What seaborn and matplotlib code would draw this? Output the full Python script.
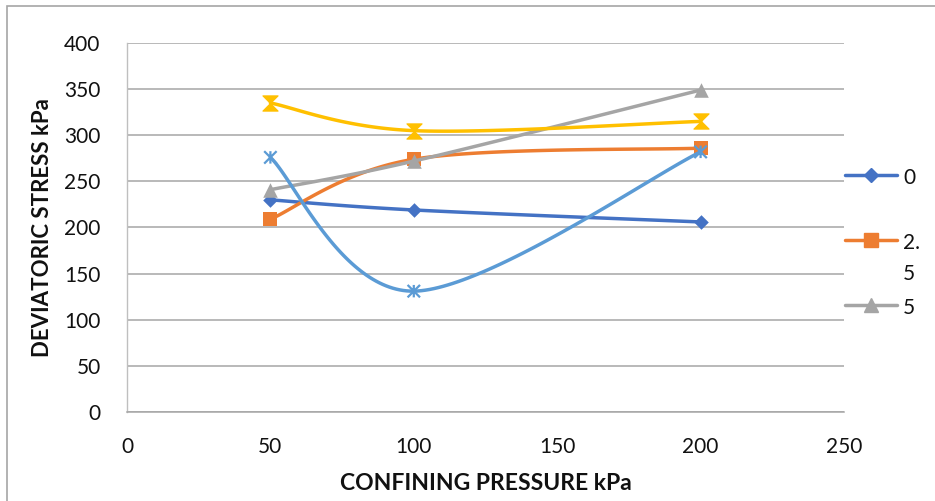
import numpy as np
import pandas as pd
import matplotlib
matplotlib.use("Agg")
import matplotlib.pyplot as plt
from matplotlib.path import Path
from matplotlib.lines import Line2D
from matplotlib.patches import Rectangle
import seaborn as sns

# ---- data -------------------------------------------------------------
confining_pressure = [50, 100, 200]
series_names = ["0", "2.5", "5", "7.5", "10"]
stress_0 = [230, 219, 206]
stress_2_5 = [209, 274, 286]
stress_5 = [241, 272, 349]
stress_7_5 = [335, 305, 315]
stress_10 = [276, 131, 282]
legend_labels = ["0", "2.\n5", "5"]

x_ticks = [0, 50, 100, 150, 200, 250]
y_ticks = [0, 50, 100, 150, 200, 250, 300, 350, 400]

# ---- styling ----------------------------------------------------------
sns.set_theme(style="white")
plt.rcParams["font.family"] = ["Lato", "DejaVu Sans"]

W, H = 935, 501
fig = plt.figure(figsize=(W / 100, H / 100), dpi=100)
left, right, top, bottom = 127, 844, 43, 412
ax = fig.add_axes([left / W, 1 - bottom / H, (right - left) / W, (bottom - top) / H])
ax.set_xlim(0, 250)
ax.set_ylim(0, 400)

# hourglass-like marker and Excel-style star marker
hourglass = Path([(-1, 1), (1, 1), (-1, -1), (1, -1), (-1, 1)],
                 [Path.MOVETO, Path.LINETO, Path.LINETO, Path.LINETO, Path.CLOSEPOLY])
star = Path([(-1, -1), (1, 1), (-1, 1), (1, -1), (0, -1), (0, 1)],
            [Path.MOVETO, Path.LINETO, Path.MOVETO, Path.LINETO, Path.MOVETO, Path.LINETO])

styles = [
    dict(color="#4472C4", marker="D", s=55, lw=0),
    dict(color="#ED7D31", marker="s", s=95, lw=0),
    dict(color="#A5A5A5", marker="^", s=110, lw=0),
    dict(color="#FFC000", marker=hourglass, s=120, lw=0.8),
    dict(color="#5B9BD5", marker=star, s=80, lw=1.6),
]
series_values = [stress_0, stress_2_5, stress_5, stress_7_5, stress_10]


def smooth_curve(xs, ys, n=60):
    """Catmull-Rom style Bezier smoothing computed in display space."""
    pts = ax.transData.transform(np.column_stack([xs, ys]))
    ext = np.vstack([pts[0], pts, pts[-1]])
    out = []
    for i in range(len(pts) - 1):
        p0, p1, p2, p3 = ext[i], ext[i + 1], ext[i + 2], ext[i + 3]
        c1 = p1 + (p2 - p0) / 6
        c2 = p2 - (p3 - p1) / 6
        t = np.linspace(0, 1, n)[:, None]
        seg = ((1 - t) ** 3) * p1 + 3 * ((1 - t) ** 2) * t * c1 + 3 * (1 - t) * t ** 2 * c2 + t ** 3 * p2
        out.append(seg if i == 0 else seg[1:])
    curve = np.vstack(out)
    return ax.transData.inverted().transform(curve)


for k, (name, vals, st) in enumerate(zip(series_names, series_values, styles)):
    curve = smooth_curve(confining_pressure, vals)
    df_curve = pd.DataFrame({"x": curve[:, 0], "y": curve[:, 1]})
    sns.lineplot(data=df_curve, x="x", y="y", sort=False, estimator=None,
                 color=st["color"], linewidth=2.5, ax=ax, zorder=3 + 2 * k)
    df_pts = pd.DataFrame({"x": confining_pressure, "y": vals})
    if st["marker"] is star:
        sns.scatterplot(data=df_pts, x="x", y="y", marker=star, s=st["s"],
                        facecolor="none", edgecolor=st["color"], linewidth=st["lw"],
                        ax=ax, zorder=4 + 2 * k)
    else:
        sns.scatterplot(data=df_pts, x="x", y="y", marker=st["marker"], s=st["s"],
                        color=st["color"], edgecolor=st["color"], linewidth=st["lw"],
                        ax=ax, zorder=4 + 2 * k)

# ---- axes -------------------------------------------------------------
ax.set_xticks(x_ticks)
ax.set_yticks(y_ticks)
ax.tick_params(axis="both", length=0, labelsize=15, colors="#111111")
ax.tick_params(axis="x", pad=18)
ax.tick_params(axis="y", pad=19)
ax.grid(axis="y", color="#A6A6A6", linewidth=1.1)
ax.grid(axis="x", visible=False)
for side in ["top", "right"]:
    ax.spines[side].set_visible(False)
ax.spines["left"].set_color("#BFBFBF")
ax.spines["left"].set_linewidth(1.0)
ax.spines["bottom"].set_color("#A6A6A6")
ax.spines["bottom"].set_linewidth(1.1)

ax.set_xlabel("CONFINING PRESSURE kPa", fontsize=16.5, fontweight="bold", color="#111111")
ax.set_ylabel("DEVIATORIC STRESS kPa", fontsize=16, fontweight="bold", color="#111111")
ax.xaxis.set_label_coords(0.5, -0.165)
ax.yaxis.set_label_coords(-0.103, 0.5)

# ---- legend (first three series) --------------------------------------
leg_y = [175, 240, 305]
line_gap = 31
for lab, y_px, st in zip(legend_labels, leg_y, styles[:3]):
    yf = 1 - y_px / H
    handle = Line2D([845 / W, 871 / W, 897 / W], [yf, yf, yf], transform=fig.transFigure,
                    color=st["color"], linewidth=2.5, marker=st["marker"],
                    markersize=np.sqrt(st["s"]), markevery=[1],
                    markerfacecolor=st["color"], markeredgecolor=st["color"])
    fig.add_artist(handle)
    for i, part in enumerate(lab.split("\n")):
        fig.text(903 / W, 1 - (y_px + 9 + i * line_gap) / H, part, fontsize=15,
                 color="#111111", va="baseline", ha="left")

# chart-area border
fig.add_artist(Rectangle((7 / W, -0.1), 1.2, 1 - 6 / H + 0.1, transform=fig.transFigure,
                         fill=False, edgecolor="#A6A6A6", linewidth=1.2))

fig.savefig("out.png", dpi=100)
